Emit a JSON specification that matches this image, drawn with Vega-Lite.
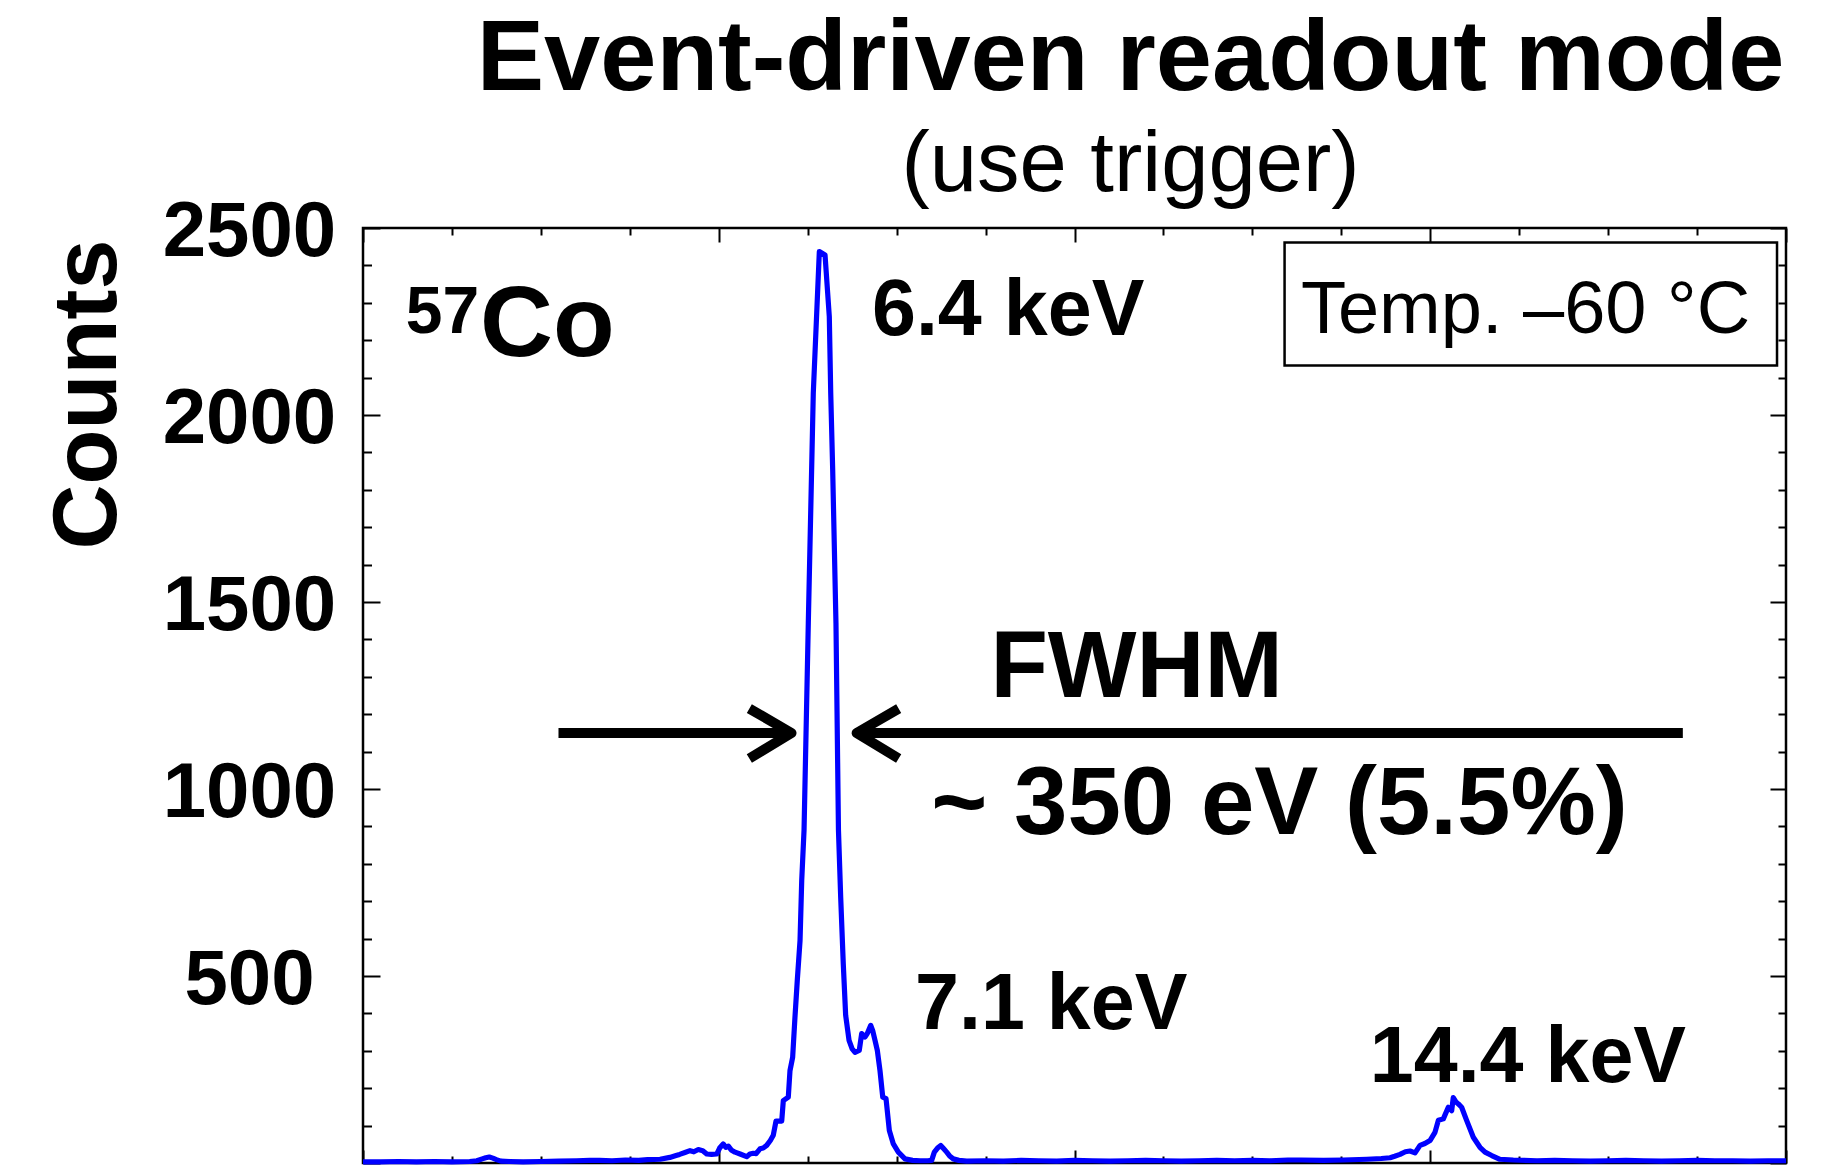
{
  "$schema": "https://vega.github.io/schema/vega-lite/v6.json",
  "width": 1423,
  "height": 935,
  "autosize": "none",
  "padding": {"left": 363, "top": 228, "right": 42, "bottom": 3},
  "background": "white",
  "config": {
    "view": {"stroke": "black", "strokeWidth": 2.5},
    "font": "Liberation Sans"
  },
  "title": {
    "text": "Event-driven readout mode",
    "subtitle": "(use trigger)",
    "anchor": "middle",
    "frame": "group",
    "dx": 56,
    "offset": -16,
    "font": "Liberation Sans",
    "fontSize": 101,
    "fontWeight": "bold",
    "color": "black",
    "subtitleFont": "Liberation Sans",
    "subtitleFontSize": 85,
    "subtitleFontWeight": "normal",
    "subtitleColor": "black",
    "subtitlePadding": 13
  },
  "resolve": {"axis": {"x": "independent", "y": "independent"}},
  "layer": [
    {
      "data": {"values": [{"x1": 1036.2, "x2": 1589.9, "y1": 2460.9, "y2": 2132.1}]},
      "mark": {"type": "rect", "fill": "white", "stroke": "black", "strokeWidth": 2.5},
      "encoding": {
        "x": {"field": "x1", "type": "quantitative", "scale": {"domain": [0, 1600], "nice": false, "zero": false},
          "axis": {"orient": "top", "values": [0,100,200,300,400,500,600,700,800,900,1000,1100,1200,1300,1400,1500,1600],
            "domain": false, "grid": false, "labels": false, "title": null, "tickColor": "black", "tickWidth": 2,
            "tickSize": {"condition": {"test": "datum.value % 400 === 0", "value": -14}, "value": -7}}},
        "x2": {"field": "x2"},
        "y": {"field": "y1", "type": "quantitative", "scale": {"domain": [0, 2500], "nice": false, "zero": false},
          "axis": {"orient": "right", "values": [0,100,200,300,400,500,600,700,800,900,1000,1100,1200,1300,1400,1500,1600,1700,1800,1900,2000,2100,2200,2300,2400,2500],
            "domain": false, "grid": false, "labels": false, "title": null, "tickColor": "black", "tickWidth": 2,
            "tickSize": {"condition": {"test": "datum.value % 500 === 0", "value": -16}, "value": -8}}},
        "y2": {"field": "y2"}
      }
    },
    {
      "data": {"values": [
        {"ch": 0, "counts": 3}, {"ch": 20, "counts": 3}, {"ch": 40, "counts": 4}, {"ch": 60, "counts": 3},
        {"ch": 80, "counts": 4}, {"ch": 100, "counts": 3}, {"ch": 120, "counts": 4}, {"ch": 128, "counts": 6},
        {"ch": 134, "counts": 11}, {"ch": 138, "counts": 14}, {"ch": 142, "counts": 16}, {"ch": 146, "counts": 13},
        {"ch": 150, "counts": 9}, {"ch": 155, "counts": 5}, {"ch": 165, "counts": 4}, {"ch": 180, "counts": 3},
        {"ch": 200, "counts": 4}, {"ch": 220, "counts": 5}, {"ch": 240, "counts": 6}, {"ch": 255, "counts": 7},
        {"ch": 266, "counts": 7}, {"ch": 280, "counts": 6}, {"ch": 295, "counts": 8}, {"ch": 310, "counts": 7},
        {"ch": 320, "counts": 9}, {"ch": 334, "counts": 10}, {"ch": 345, "counts": 15}, {"ch": 352, "counts": 20},
        {"ch": 356, "counts": 23}, {"ch": 362, "counts": 28}, {"ch": 367.7, "counts": 33}, {"ch": 372, "counts": 30},
        {"ch": 377, "counts": 36}, {"ch": 382, "counts": 33}, {"ch": 386.5, "counts": 24}, {"ch": 392, "counts": 23},
        {"ch": 397.7, "counts": 24}, {"ch": 401, "counts": 40}, {"ch": 405, "counts": 51}, {"ch": 408, "counts": 42},
        {"ch": 410.8, "counts": 45}, {"ch": 414, "counts": 35}, {"ch": 418.3, "counts": 29}, {"ch": 424, "counts": 24},
        {"ch": 431.4, "counts": 17}, {"ch": 435, "counts": 24}, {"ch": 438.9, "counts": 26}, {"ch": 442, "counts": 25},
        {"ch": 446.4, "counts": 38}, {"ch": 450, "counts": 40}, {"ch": 453.9, "counts": 47}, {"ch": 458, "counts": 60},
        {"ch": 461.3, "counts": 74}, {"ch": 464.4, "counts": 112}, {"ch": 470.8, "counts": 112}, {"ch": 472.6, "counts": 167},
        {"ch": 478.2, "counts": 176}, {"ch": 480.1, "counts": 247}, {"ch": 483.1, "counts": 283}, {"ch": 485.7, "counts": 390},
        {"ch": 488.3, "counts": 488}, {"ch": 491.4, "counts": 595}, {"ch": 493.3, "counts": 756}, {"ch": 495.9, "counts": 890},
        {"ch": 500.7, "counts": 1444}, {"ch": 506.3, "counts": 2059}, {"ch": 513.1, "counts": 2437}, {"ch": 519.5, "counts": 2428},
        {"ch": 524.3, "counts": 2263}, {"ch": 525.9, "counts": 2059}, {"ch": 528.1, "counts": 1854}, {"ch": 531.8, "counts": 1444},
        {"ch": 534.6, "counts": 890}, {"ch": 537.1, "counts": 711}, {"ch": 540, "counts": 533}, {"ch": 542.7, "counts": 395},
        {"ch": 546.5, "counts": 328}, {"ch": 550, "counts": 305}, {"ch": 553.2, "counts": 296}, {"ch": 558, "counts": 301},
        {"ch": 560.7, "counts": 346}, {"ch": 564.4, "counts": 337}, {"ch": 567, "counts": 346}, {"ch": 570.9, "counts": 368},
        {"ch": 573.1, "counts": 354}, {"ch": 575.7, "counts": 328}, {"ch": 578.3, "counts": 301}, {"ch": 581.3, "counts": 247},
        {"ch": 584.4, "counts": 176}, {"ch": 588.1, "counts": 172}, {"ch": 591.8, "counts": 87}, {"ch": 596.3, "counts": 51},
        {"ch": 601.9, "counts": 29}, {"ch": 609.4, "counts": 11}, {"ch": 618, "counts": 7}, {"ch": 626.3, "counts": 6},
        {"ch": 635, "counts": 6}, {"ch": 639.4, "counts": 7}, {"ch": 642.4, "counts": 29}, {"ch": 646, "counts": 40},
        {"ch": 649.6, "counts": 47}, {"ch": 653, "counts": 38}, {"ch": 656.3, "counts": 29}, {"ch": 660, "counts": 18},
        {"ch": 663.7, "counts": 11}, {"ch": 670, "counts": 7}, {"ch": 678.8, "counts": 5}, {"ch": 700, "counts": 6},
        {"ch": 720, "counts": 5}, {"ch": 740, "counts": 7}, {"ch": 760, "counts": 6}, {"ch": 780, "counts": 5},
        {"ch": 800, "counts": 7}, {"ch": 820, "counts": 6}, {"ch": 840, "counts": 5}, {"ch": 860, "counts": 6},
        {"ch": 880, "counts": 7}, {"ch": 900, "counts": 6}, {"ch": 920, "counts": 5}, {"ch": 940, "counts": 6},
        {"ch": 960, "counts": 7}, {"ch": 980, "counts": 6}, {"ch": 1000, "counts": 7}, {"ch": 1020, "counts": 6},
        {"ch": 1040, "counts": 8}, {"ch": 1054.6, "counts": 8}, {"ch": 1080, "counts": 7}, {"ch": 1102.3, "counts": 8},
        {"ch": 1128.6, "counts": 10}, {"ch": 1145, "counts": 12}, {"ch": 1154.8, "counts": 14}, {"ch": 1160, "counts": 18},
        {"ch": 1166, "counts": 23}, {"ch": 1172, "counts": 30}, {"ch": 1177.2, "counts": 32}, {"ch": 1182.9, "counts": 27},
        {"ch": 1188.5, "counts": 47}, {"ch": 1194, "counts": 52}, {"ch": 1199.7, "counts": 60}, {"ch": 1205.3, "counts": 82},
        {"ch": 1209.1, "counts": 114}, {"ch": 1214.7, "counts": 118}, {"ch": 1220.3, "counts": 149}, {"ch": 1224.1, "counts": 140},
        {"ch": 1225.9, "counts": 175}, {"ch": 1229, "counts": 163}, {"ch": 1231.6, "counts": 158}, {"ch": 1235.3, "counts": 149},
        {"ch": 1240.9, "counts": 114}, {"ch": 1248.4, "counts": 69}, {"ch": 1255.9, "counts": 42}, {"ch": 1261.6, "counts": 29},
        {"ch": 1269.1, "counts": 20}, {"ch": 1278.4, "counts": 10}, {"ch": 1293.4, "counts": 8}, {"ch": 1320, "counts": 6},
        {"ch": 1340, "counts": 7}, {"ch": 1360, "counts": 6}, {"ch": 1380, "counts": 5}, {"ch": 1400, "counts": 6},
        {"ch": 1420, "counts": 7}, {"ch": 1440, "counts": 6}, {"ch": 1460, "counts": 5}, {"ch": 1480, "counts": 6},
        {"ch": 1500, "counts": 7}, {"ch": 1520, "counts": 6}, {"ch": 1540, "counts": 6}, {"ch": 1560, "counts": 5},
        {"ch": 1580, "counts": 6}, {"ch": 1600, "counts": 6}
      ]},
      "mark": {"type": "line", "color": "#0000ff", "strokeWidth": 5.2, "strokeJoin": "round"},
      "encoding": {
        "x": {"field": "ch", "type": "quantitative", "scale": {"domain": [0, 1600], "nice": false, "zero": false},
          "axis": {"orient": "bottom", "values": [0,100,200,300,400,500,600,700,800,900,1000,1100,1200,1300,1400,1500,1600],
            "domain": false, "grid": false, "labels": false, "title": null, "tickColor": "black", "tickWidth": 2,
            "tickSize": {"condition": {"test": "datum.value % 400 === 0", "value": -13}, "value": -7}}},
        "y": {"field": "counts", "type": "quantitative", "scale": {"domain": [0, 2500], "nice": false, "zero": false},
          "axis": {"orient": "left", "values": [0,100,200,300,400,500,600,700,800,900,1000,1100,1200,1300,1400,1500,1600,1700,1800,1900,2000,2100,2200,2300,2400,2500],
            "domain": false, "grid": false, "tickColor": "black", "tickWidth": 2,
            "tickSize": {"condition": {"test": "datum.value % 500 === 0", "value": -17}, "value": -8.5},
            "format": "d",
            "labelExpr": "datum.value % 500 === 0 && datum.value > 0 ? datum.label : ''",
            "labelFont": "Liberation Sans", "labelFontSize": 78, "labelFontWeight": "bold", "labelColor": "black",
            "labelAlign": "center", "labelBaseline": "middle", "labelPadding": 131, "labelOffset": 4, "labelOverlap": false, "labelLimit": 400,
            "title": "Counts", "titleX": -248, "titleY": 166, "titleAngle": -90, "titleAlign": "center", "titleBaseline": "alphabetic",
            "titleFont": "Liberation Sans", "titleFontSize": 90, "titleFontWeight": "bold", "titleColor": "black"}}
      }
    },
    {
      "data": {"values": [
        {"part": "a", "o": 1, "ch": 219.8, "counts": 1149.8}, {"part": "a", "o": 2, "ch": 481.8, "counts": 1149.8},
        {"part": "b", "o": 1, "ch": 434.4, "counts": 1215.1}, {"part": "b", "o": 2, "ch": 481.8, "counts": 1149.8}, {"part": "b", "o": 3, "ch": 434.4, "counts": 1081.3},
        {"part": "c", "o": 1, "ch": 1484, "counts": 1149.8}, {"part": "c", "o": 2, "ch": 555, "counts": 1149.8},
        {"part": "d", "o": 1, "ch": 602.3, "counts": 1215.1}, {"part": "d", "o": 2, "ch": 555, "counts": 1149.8}, {"part": "d", "o": 3, "ch": 602.3, "counts": 1081.3}
      ]},
      "mark": {"type": "line", "color": "black", "strokeWidth": 10, "strokeJoin": "round", "strokeCap": "butt"},
      "encoding": {
        "x": {"field": "ch", "type": "quantitative", "scale": {"domain": [0, 1600], "nice": false, "zero": false}, "axis": null},
        "y": {"field": "counts", "type": "quantitative", "scale": {"domain": [0, 2500], "nice": false, "zero": false}, "axis": null},
        "detail": {"field": "part", "type": "nominal"},
        "order": {"field": "o", "type": "quantitative"}
      }
    },
    {
      "data": {"values": [
        {"label": "6.4 keV", "ch": 572.3, "counts": 2214.8},
        {"label": "7.1 keV", "ch": 620.7, "counts": 359.3},
        {"label": "14.4 keV", "ch": 1132, "counts": 216.2}
      ]},
      "mark": {"type": "text", "align": "left", "baseline": "alphabetic", "fontSize": 79, "fontWeight": "bold", "font": "Liberation Sans", "color": "black"},
      "encoding": {
        "x": {"field": "ch", "type": "quantitative", "scale": {"domain": [0, 1600], "nice": false, "zero": false}, "axis": null},
        "y": {"field": "counts", "type": "quantitative", "scale": {"domain": [0, 2500], "nice": false, "zero": false}, "axis": null},
        "text": {"field": "label"}
      }
    },
    {
      "data": {"values": [{"label": "Co", "ch": 131.5, "counts": 2157.5}]},
      "mark": {"type": "text", "align": "left", "baseline": "alphabetic", "fontSize": 101, "fontWeight": "bold", "font": "Liberation Sans", "color": "black"},
      "encoding": {
        "x": {"field": "ch", "type": "quantitative", "scale": {"domain": [0, 1600], "nice": false, "zero": false}, "axis": null},
        "y": {"field": "counts", "type": "quantitative", "scale": {"domain": [0, 2500], "nice": false, "zero": false}, "axis": null},
        "text": {"field": "label"}
      }
    },
    {
      "data": {"values": [{"label": "57", "ch": 48, "counts": 2218.3}]},
      "mark": {"type": "text", "align": "left", "baseline": "alphabetic", "fontSize": 66, "fontWeight": "bold", "font": "Liberation Sans", "color": "black"},
      "encoding": {
        "x": {"field": "ch", "type": "quantitative", "scale": {"domain": [0, 1600], "nice": false, "zero": false}, "axis": null},
        "y": {"field": "counts", "type": "quantitative", "scale": {"domain": [0, 2500], "nice": false, "zero": false}, "axis": null},
        "text": {"field": "label"}
      }
    },
    {
      "data": {"values": [{"label": "FWHM", "ch": 869.8, "counts": 1246.1}]},
      "mark": {"type": "text", "align": "center", "baseline": "alphabetic", "fontSize": 94, "fontWeight": "bold", "font": "Liberation Sans", "color": "black"},
      "encoding": {
        "x": {"field": "ch", "type": "quantitative", "scale": {"domain": [0, 1600], "nice": false, "zero": false}, "axis": null},
        "y": {"field": "counts", "type": "quantitative", "scale": {"domain": [0, 2500], "nice": false, "zero": false}, "axis": null},
        "text": {"field": "label"}
      }
    },
    {
      "data": {"values": [{"label": "~ 350 eV (5.5%)", "ch": 1030.5, "counts": 878.8}]},
      "mark": {"type": "text", "align": "center", "baseline": "alphabetic", "fontSize": 96, "fontWeight": "bold", "font": "Liberation Sans", "color": "black"},
      "encoding": {
        "x": {"field": "ch", "type": "quantitative", "scale": {"domain": [0, 1600], "nice": false, "zero": false}, "axis": null},
        "y": {"field": "counts", "type": "quantitative", "scale": {"domain": [0, 2500], "nice": false, "zero": false}, "axis": null},
        "text": {"field": "label"}
      }
    },
    {
      "data": {"values": [{"label": "Temp. –60 °C", "ch": 1307.1, "counts": 2219.9}]},
      "mark": {"type": "text", "align": "center", "baseline": "alphabetic", "fontSize": 74, "fontWeight": "normal", "font": "Liberation Sans", "color": "black"},
      "encoding": {
        "x": {"field": "ch", "type": "quantitative", "scale": {"domain": [0, 1600], "nice": false, "zero": false}, "axis": null},
        "y": {"field": "counts", "type": "quantitative", "scale": {"domain": [0, 2500], "nice": false, "zero": false}, "axis": null},
        "text": {"field": "label"}
      }
    }
  ]
}
